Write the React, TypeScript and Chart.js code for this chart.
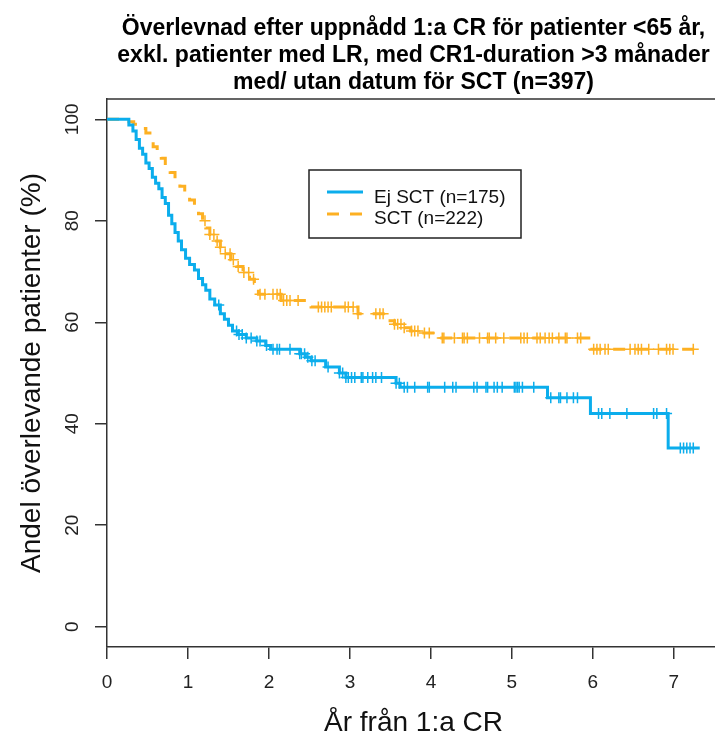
import React, { useEffect, useRef } from "react";
import { Chart, registerables } from "chart.js";
Chart.register(...registerables);

const TITLE_LINES = [
  "Överlevnad efter uppnådd 1:a CR för patienter <65 år,",
  "exkl. patienter med LR, med CR1-duration >3 månader",
  "med/ utan datum för SCT (n=397)",
];
const X_LABEL = "År från 1:a CR";
const Y_LABEL = "Andel överlevande patienter (%)";
const X_TICKS = [0, 1, 2, 3, 4, 5, 6, 7];
const Y_TICKS = [0, 20, 40, 60, 80, 100];
const SERIES_NAMES = ["Ej SCT (n=175)", "SCT (n=222)"];
const BLUE = "#0BADEC";
const ORANGE = "#FDB022";

// Ej SCT: step times (years) and survival (%) after each step
const ejTimes = [0, 0.27, 0.32, 0.36, 0.4, 0.44, 0.48, 0.52, 0.56, 0.6, 0.64, 0.68, 0.72, 0.76, 0.8, 0.84, 0.88, 0.92, 0.97, 1.02, 1.08, 1.13, 1.18, 1.22, 1.27, 1.33, 1.4, 1.45, 1.5, 1.55, 1.62, 1.72, 1.85, 1.96, 2.02, 2.38, 2.45, 2.52, 2.7, 2.87, 2.95, 3.57, 3.62, 5.44, 5.97, 6.93];
const ejSurv = [100, 98.9, 97.7, 96.0, 94.3, 93.1, 91.4, 90.3, 88.6, 87.4, 86.3, 84.6, 83.4, 81.1, 79.4, 77.7, 76.0, 74.3, 72.6, 71.4, 70.3, 68.6, 67.4, 66.3, 64.6, 63.4, 61.7, 60.6, 59.4, 58.3, 57.6, 56.9, 56.3, 55.4, 54.7, 53.8, 53.1, 52.4, 51.2, 50.0, 49.1, 48.0, 47.2, 45.1, 42.0, 35.2];
const ejEnd = 7.32;
const ejCensor = [1.38, 1.6, 1.63, 1.67, 1.72, 1.78, 1.85, 1.89, 1.97, 2.05, 2.1, 2.13, 2.26, 2.38, 2.4, 2.44, 2.48, 2.53, 2.57, 2.73, 2.87, 2.91, 2.95, 2.98, 3.02, 3.06, 3.14, 3.16, 3.22, 3.28, 3.32, 3.39, 3.57, 3.61, 3.67, 3.71, 3.8, 3.96, 3.98, 4.17, 4.27, 4.31, 4.53, 4.57, 4.68, 4.7, 4.78, 4.82, 4.88, 5.03, 5.05, 5.07, 5.09, 5.13, 5.27, 5.48, 5.58, 5.6, 5.68, 5.76, 5.81, 6.07, 6.11, 6.21, 6.42, 6.75, 6.79, 6.91, 7.08, 7.12, 7.16, 7.2, 7.24];

// SCT
const sctTimes = [0, 0.25, 0.33, 0.42, 0.48, 0.53, 0.57, 0.62, 0.67, 0.72, 0.78, 0.84, 0.9, 0.96, 1.02, 1.08, 1.13, 1.18, 1.22, 1.27, 1.33, 1.4, 1.46, 1.53, 1.6, 1.68, 1.76, 1.82, 1.87, 2.15, 2.52, 3.1, 3.43, 3.55, 3.67, 3.75, 3.85, 4.05, 5.97];
const sctSurv = [100, 99.5, 99.0, 98.2, 97.3, 95.9, 94.6, 93.2, 92.3, 90.9, 89.5, 88.2, 86.8, 85.5, 84.1, 82.7, 81.4, 80.0, 78.6, 77.3, 76.0, 74.8, 73.5, 72.3, 71.0, 69.8, 68.5, 67.2, 65.5, 64.3, 63.0, 61.7, 60.3, 59.6, 58.9, 58.3, 57.9, 56.9, 54.7];
const sctEnd = 7.28;
const sctCensor = [1.21, 1.27, 1.32, 1.36, 1.4, 1.46, 1.52, 1.56, 1.62, 1.69, 1.75, 1.81, 1.89, 1.95, 2.05, 2.1, 2.14, 2.18, 2.22, 2.26, 2.36, 2.61, 2.65, 2.69, 2.73, 2.77, 2.94, 2.98, 3.04, 3.1, 3.32, 3.37, 3.41, 3.55, 3.59, 3.63, 3.67, 3.76, 3.8, 3.84, 3.92, 3.98, 4.14, 4.16, 4.29, 4.39, 4.41, 4.45, 4.6, 4.7, 4.72, 4.8, 4.9, 5.11, 5.15, 5.19, 5.31, 5.35, 5.41, 5.46, 5.5, 5.58, 5.66, 5.68, 5.81, 5.85, 6.01, 6.05, 6.09, 6.15, 6.19, 6.46, 6.52, 6.56, 6.6, 6.69, 6.81, 6.91, 6.95, 6.99, 7.24];

const FONT = "'Liberation Sans', Arial, sans-serif";
const AXIS_COLOR = "#333";

function stepPoints(times: number[], surv: number[], end: number) {
  const pts = times.map((t, i) => ({ x: t, y: surv[i] }));
  pts.push({ x: end, y: surv[surv.length - 1] });
  return pts;
}
function survAt(times: number[], surv: number[], t: number) {
  let v = surv[0];
  for (let i = 0; i < times.length; i++) if (times[i] <= t) v = surv[i];
  return v;
}
function censorPoints(times: number[], surv: number[], cens: number[]) {
  return cens.map((t) => ({ x: t, y: survAt(times, surv, t) }));
}

const decorPlugin = {
  id: "decor",
  afterDraw(chart: any) {
    const { ctx, chartArea, scales } = chart;
    const cx = (chartArea.left + chartArea.right) / 2;
    ctx.save();
    // top / right frame
    ctx.strokeStyle = AXIS_COLOR;
    ctx.lineWidth = 1.5;
    ctx.beginPath();
    ctx.moveTo(chartArea.left, chartArea.top);
    ctx.lineTo(chartArea.right, chartArea.top);
    ctx.lineTo(chartArea.right, chartArea.bottom);
    ctx.stroke();

    // title
    ctx.fillStyle = "#000";
    ctx.font = `bold 23px ${FONT}`;
    ctx.textAlign = "center";
    ctx.textBaseline = "alphabetic";
    const baselines = [35, 62, 89];
    TITLE_LINES.forEach((l, i) => ctx.fillText(l, cx, baselines[i]));

    // y tick labels (rotated)
    const ys = scales.y;
    ctx.font = `19px ${FONT}`;
    ctx.fillStyle = "#222";
    ctx.textBaseline = "middle";
    ys.ticks.forEach((tk: any) => {
      const py = ys.getPixelForValue(tk.value);
      ctx.save();
      ctx.translate(73, py);
      ctx.rotate(-Math.PI / 2);
      ctx.fillText(String(tk.value), 0, 0);
      ctx.restore();
    });

    // axis labels
    ctx.fillStyle = "#111";
    ctx.font = `28px ${FONT}`;
    ctx.textBaseline = "alphabetic";
    ctx.fillText(X_LABEL, cx, 731);
    ctx.save();
    ctx.translate(40, (chartArea.top + chartArea.bottom) / 2);
    ctx.rotate(-Math.PI / 2);
    ctx.fillText(Y_LABEL, 0, 0);
    ctx.restore();

    // legend
    ctx.strokeStyle = "#222";
    ctx.lineWidth = 1.5;
    ctx.strokeRect(309, 170, 212, 68);
    ctx.lineWidth = 3;
    ctx.strokeStyle = BLUE;
    ctx.beginPath();
    ctx.moveTo(327, 192);
    ctx.lineTo(363, 192);
    ctx.stroke();
    ctx.strokeStyle = ORANGE;
    ctx.setLineDash([12, 11]);
    ctx.beginPath();
    ctx.moveTo(327, 214);
    ctx.lineTo(363, 214);
    ctx.stroke();
    ctx.setLineDash([]);
    ctx.fillStyle = "#111";
    ctx.font = `19px ${FONT}`;
    ctx.textAlign = "left";
    ctx.textBaseline = "middle";
    ctx.fillText(SERIES_NAMES[0], 374, 198);
    ctx.fillText(SERIES_NAMES[1], 374, 219);
    ctx.restore();
  },
};

export default function App() {
  const ref = useRef<HTMLCanvasElement | null>(null);
  useEffect(() => {
    document.body.style.margin = "0";
    const canvas = ref.current;
    if (!canvas) return;
    const chart = new Chart(canvas, {
      type: "scatter",
      data: {
        datasets: [
          {
            label: SERIES_NAMES[0],
            data: stepPoints(ejTimes, ejSurv, ejEnd),
            showLine: true,
            stepped: "before",
            borderColor: BLUE,
            borderWidth: 3,
            pointRadius: 0,
            fill: false,
          },
          {
            label: SERIES_NAMES[1],
            data: stepPoints(sctTimes, sctSurv, sctEnd),
            showLine: true,
            stepped: "before",
            borderColor: ORANGE,
            borderWidth: 3,
            borderDash: [12, 11],
            pointRadius: 0,
            fill: false,
          },
          {
            label: "censor-ej",
            data: censorPoints(ejTimes, ejSurv, ejCensor),
            showLine: false,
            pointStyle: "cross",
            pointRadius: 5.5,
            pointBorderWidth: 1.5,
            pointBorderColor: BLUE,
            pointBackgroundColor: BLUE,
          },
          {
            label: "censor-sct",
            data: censorPoints(sctTimes, sctSurv, sctCensor),
            showLine: false,
            pointStyle: "cross",
            pointRadius: 5.5,
            pointBorderWidth: 1.5,
            pointBorderColor: ORANGE,
            pointBackgroundColor: ORANGE,
          },
        ],
      },
      options: {
        animation: false,
        responsive: false,
        layout: { padding: { top: 99, right: 10, left: 0, bottom: 0 } },
        plugins: { legend: { display: false }, tooltip: { enabled: false }, title: { display: false } },
        scales: {
          x: {
            type: "linear",
            min: 0,
            max: 7.57,
            afterBuildTicks: (s: any) => {
              s.ticks = X_TICKS.map((v) => ({ value: v }));
            },
            afterFit: (s: any) => {
              s.height = 90;
            },
            grid: { drawOnChartArea: false, drawTicks: true, tickLength: 12, color: AXIS_COLOR, lineWidth: 1.5 },
            border: { display: true, color: AXIS_COLOR, width: 1.5 },
            ticks: {
              font: { family: FONT, size: 19 },
              color: "#222",
              padding: 12,
              maxRotation: 0,
              autoSkip: false,
              callback: (v: any) => String(v),
            },
          },
          y: {
            type: "linear",
            min: -4,
            max: 104,
            afterBuildTicks: (s: any) => {
              s.ticks = Y_TICKS.map((v) => ({ value: v }));
            },
            afterFit: (s: any) => {
              s.width = 107;
            },
            grid: { drawOnChartArea: false, drawTicks: true, tickLength: 12, color: AXIS_COLOR, lineWidth: 1.5 },
            border: { display: true, color: AXIS_COLOR, width: 1.5 },
            ticks: { display: false },
          },
        },
      },
      plugins: [decorPlugin],
    } as any);
    return () => chart.destroy();
  }, []);
  return (
    <div style={{ width: 715, height: 737, overflow: "hidden", background: "#fff" }}>
      <canvas ref={ref} width={730} height={737} style={{ width: 730, height: 737, display: "block" }} />
    </div>
  );
}
